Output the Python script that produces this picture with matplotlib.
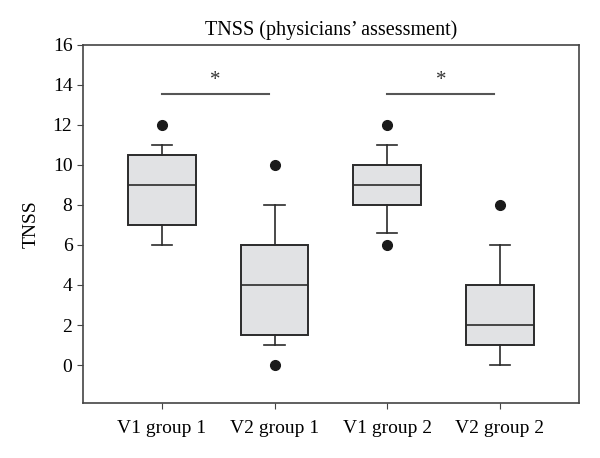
import matplotlib
matplotlib.use("Agg")
import matplotlib.pyplot as plt

# Valeurs (TNSS, évaluation médecin)
groups = ["V1 group 1", "V2 group 1", "V1 group 2", "V2 group 2"]
whisker_low = [6, 1, 6.6, 0]
q1 = [7, 1.5, 8, 1]
medians = [9, 4, 9, 2]
q3 = [10.5, 6, 10, 4]
whisker_high = [11, 8, 11, 6]
outliers = [[12], [10, 0], [12, 6], [8]]

# barres de significativité: (de, à, hauteur)
sig_pairs = [(1, 2), (3, 4)]
sig_height = 13.55

plt.rcParams["font.family"] = ["Liberation Serif", "DejaVu Serif"]

fig = plt.figure(figsize=(6.0, 4.58), dpi=100)
ax = fig.add_axes([0.138, 0.120, 0.827, 0.782])

line_col = "#2b2b2b"
stats = []
for i, name in enumerate(groups):
    stats.append({
        "label": name,
        "whislo": whisker_low[i],
        "q1": q1[i],
        "med": medians[i],
        "q3": q3[i],
        "whishi": whisker_high[i],
        "fliers": outliers[i],
    })

ax.bxp(
    stats,
    positions=range(1, len(groups) + 1),
    widths=0.6,
    patch_artist=True,
    boxprops=dict(facecolor="#e1e2e4", edgecolor=line_col, linewidth=1.4),
    medianprops=dict(color=line_col, linewidth=1.2),
    whiskerprops=dict(color=line_col, linewidth=1.2),
    capprops=dict(color=line_col, linewidth=1.2),
    capwidths=0.18,
    flierprops=dict(marker="o", markerfacecolor="#1a1a1a", markeredgecolor="#1a1a1a", markersize=7),
)

# étoiles de significativité
for a, b in sig_pairs:
    ax.plot([a, b - 0.05], [sig_height, sig_height], color="#555555", linewidth=1.5)
    ax.text((a + b - 0.05) / 2, sig_height + 0.2, "*", ha="center", va="bottom", fontsize=15, color="#333333")

ax.set_xlim(0.3, 4.7)
ax.set_ylim(-1.9, 16)
ax.set_yticks(range(0, 17, 2))
ax.set_ylabel("TNSS", fontsize=14, labelpad=9)
ax.set_title("TNSS (physicians’ assessment)", fontsize=14.5, pad=7)

ax.tick_params(axis="both", labelsize=14, direction="out", color="#444444", length=4)
ax.tick_params(axis="x", pad=8)
for sp in ax.spines.values():
    sp.set_color("#444444")
    sp.set_linewidth(1.2)

fig.savefig("out.png", dpi=100)
